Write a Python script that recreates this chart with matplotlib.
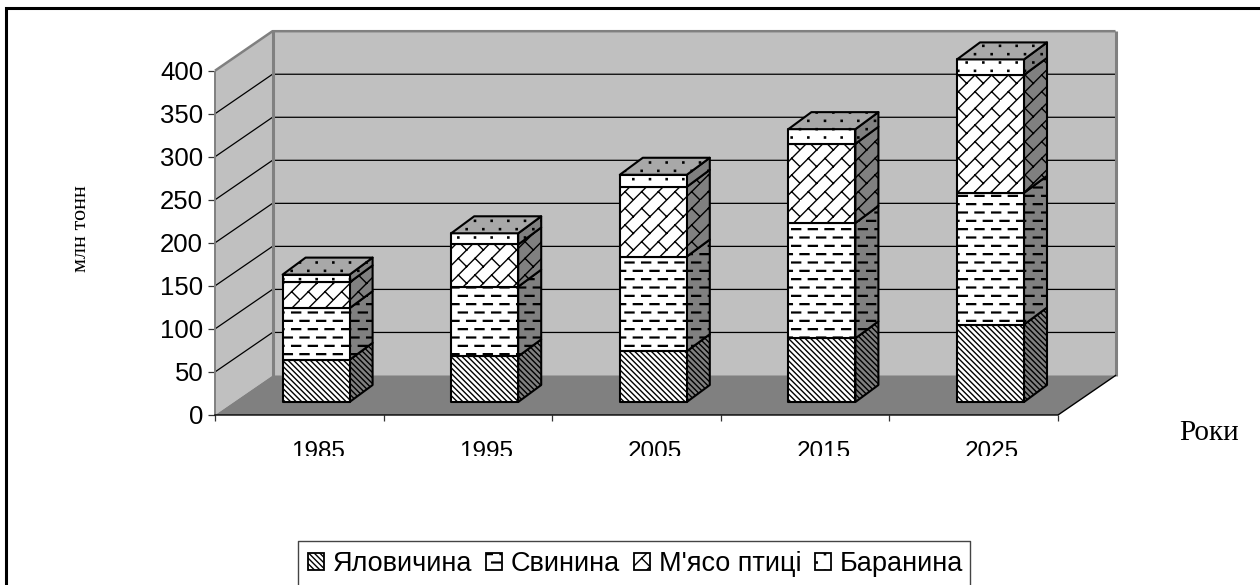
import matplotlib
matplotlib.use("Agg")
import matplotlib.pyplot as plt
import matplotlib.hatch as mh
from matplotlib.path import Path
from matplotlib.patches import Polygon, Patch
from matplotlib.lines import Line2D
from matplotlib.transforms import Bbox
import numpy as np

years = ["1985", "1995", "2005", "2015", "2025"]
series_names = ["Яловичина", "Свинина", "М'ясо птиці", "Баранина"]
beef = [49, 53, 59, 74, 90]
pork = [60, 81, 110, 134, 153]
poultry = [30, 49, 81, 92, 137]
mutton = [9, 13, 14, 17, 18]
y_ticks = [0, 50, 100, 150, 200, 250, 300, 350, 400]
y_label = "млн тонн"
x_label = "Роки"

W, H = 1260, 585


def add_rect(vertices, codes, k, x0, y0, x1, y1):
    vertices[k:k + 5] = [(x0, y0), (x1, y0), (x1, y1), (x0, y1), (x0, y0)]
    codes[k:k + 5] = [Path.MOVETO, Path.LINETO, Path.LINETO, Path.LINETO, Path.CLOSEPOLY]
    return k + 5


class DashHatch(mh.HatchPatternBase):
    def __init__(self, hatch, density):
        self.rows = 12 if "-" in hatch else 0
        self.cols = 6
        self.num_vertices = 5 * self.rows * (self.cols + 1)

    def set_vertices_and_codes(self, vertices, codes):
        k = 0
        T = 1 / self.cols
        for r in range(self.rows):
            off = (r % 2) * T / 2 - T / 2
            y = (r + 0.5) / self.rows
            for c in range(self.cols + 1):
                x = off + c * T
                k = add_rect(vertices, codes, k, x, y - 0.004, x + 0.09, y + 0.004)


class BrickHatch(mh.HatchPatternBase):
    def __init__(self, hatch, density):
        self.segs = []
        if "|" in hatch:
            N = 6
            T = 1 / N
            for i in range(N):
                for j in range(N):
                    x, y = i / N, j / N
                    self.segs.append(((x, y), (x + T, y + T)))
                    self.segs.append(((x + T, y), (x + T / 2, y + T / 2)))
        self.num_vertices = 2 * len(self.segs)

    def set_vertices_and_codes(self, vertices, codes):
        for k, (p, q) in enumerate(self.segs):
            vertices[2 * k] = p
            vertices[2 * k + 1] = q
            codes[2 * k] = Path.MOVETO
            codes[2 * k + 1] = Path.LINETO


class DotHatch(mh.HatchPatternBase):
    def __init__(self, hatch, density):
        self.rows = 12 if "." in hatch else 0
        self.cols = 6
        self.num_vertices = 5 * self.rows * (self.cols + 1)

    def set_vertices_and_codes(self, vertices, codes):
        k = 0
        T = 1 / self.cols
        h = 0.006
        for r in range(self.rows):
            off = (r % 2) * T / 2
            y = (r + 0.5) / self.rows
            for c in range(self.cols + 1):
                x = off + c * T
                k = add_rect(vertices, codes, k, x - h, y - h, x + h, y + h)


mh._hatch_types = [mh.SouthEastHatch, DashHatch, BrickHatch, DotHatch]
plt.rcParams["hatch.linewidth"] = 1.0
plt.rcParams["font.family"] = ["Liberation Sans", "DejaVu Sans"]

hatches = ["\\" * 6, "-", "|", "."]

fig = plt.figure(figsize=(W / 100, H / 100), dpi=100, facecolor="white")
# front plane of the pseudo-3D box
LEFT, RIGHT, TOP, BOTTOM = 215, 1058, 70.7, 415
ax = fig.add_axes([LEFT / W, 1 - BOTTOM / H, (RIGHT - LEFT) / W, (BOTTOM - TOP) / H])
ax.set_xlim(0, 5)
ax.set_ylim(0, 400)
ax.patch.set_visible(False)
for sp in ax.spines.values():
    sp.set_visible(False)

px_x = 5 / (RIGHT - LEFT)
px_y = 400 / (BOTTOM - TOP)
DX, DY = 57.5 * px_x, 39.5 * px_y          # depth of the box
BDX, BDY = 23 * px_x, 17 * px_y            # depth of one bar
BW = 67 * px_x
BAR_DX, BAR_LIFT = 16.8 * px_x, 13 * px_y  # where bars stand on the floor


def poly(pts, **kw):
    kw.setdefault("clip_on", False)
    ax.add_patch(Polygon(pts, closed=True, **kw))


WALL, FLOOR, SIDE, CAP = "#c0c0c0", "#808080", "#808080", "#a8a8a8"
poly([(0, 0), (DX, DY), (DX, 400 + DY), (0, 400)], facecolor=WALL, edgecolor="none", zorder=1)
poly([(DX, DY), (5 + DX, DY), (5 + DX, 400 + DY), (DX, 400 + DY)], facecolor=WALL, edgecolor="none", zorder=1)
poly([(0, 0), (5, 0), (5 + DX, DY), (DX, DY)], facecolor=FLOOR, edgecolor="none", zorder=2)

for t in y_ticks[1:-1]:
    ax.plot([0, DX, 5 + DX], [t, t + DY, t + DY], color="black", lw=0.9, clip_on=False, zorder=1.5)

gray_edge = dict(color="#808080", clip_on=False, zorder=1.6, solid_capstyle="butt")
ax.plot([0, 0], [0, 400], lw=1.4, **gray_edge)
ax.plot([0, DX, 5 + DX], [400, 400 + DY, 400 + DY], lw=1.8, **gray_edge)
ax.plot([DX, DX], [DY, 400 + DY], lw=2.2, **gray_edge)
ax.plot([5 + DX, 5 + DX], [DY, 400 + DY], lw=2.2, **gray_edge)
ax.plot([0, 5, 5 + DX], [0, 0, DY], color="black", lw=1.0, clip_on=False, zorder=2.5)

series = [beef, pork, poultry, mutton]
for i in range(len(years)):
    x0 = i + 0.5 + BAR_DX - BW / 2
    x1 = x0 + BW
    bottom = BAR_LIFT
    style = dict(edgecolor="black", linewidth=1.5, joinstyle="round", zorder=3 + i)
    for vals, h in zip(series, hatches):
        top = bottom + vals[i]
        poly([(x1, bottom), (x1 + BDX, bottom + BDY), (x1 + BDX, top + BDY), (x1, top)], facecolor=SIDE, hatch=h, **style)
        poly([(x0, bottom), (x1, bottom), (x1, top), (x0, top)], facecolor="white", hatch=h, **style)
        bottom = top
    poly([(x0, bottom), (x1, bottom), (x1 + BDX, bottom + BDY), (x0 + BDX, bottom + BDY)], facecolor=CAP, hatch=hatches[-1], **style)

ax.set_yticks(y_ticks)
ax.tick_params(axis="y", length=5, width=0.9, color="#333333", pad=3.5, labelsize=18.5, labelcolor="black")
ax.set_xticks(range(len(years) + 1))
ax.set_xticklabels([])
ax.tick_params(axis="x", which="major", length=4.5, width=0.9, color="#333333")
ax.set_xticks(np.arange(len(years)) + 0.5 + BAR_DX * 1.1, minor=True)
ax.set_xticklabels(years, minor=True, fontsize=17.5)
ax.tick_params(axis="x", which="minor", length=0, pad=19)
clip = Bbox.from_extents(0, H - 455.5, W, H - 430)
for lab in ax.get_xticklabels(minor=True):
    lab.set_clip_on(True)
    lab.set_clip_box(clip)

fig.text(81.5 / W, 1 - 229 / H, y_label, rotation=90, ha="center", va="center", family="Liberation Serif", fontsize=16)
fig.text(1208.5 / W, 1 - 433 / H, x_label, ha="center", va="center", family="Liberation Serif", fontsize=21)

# outer frame and legend box (both run off the picture edge)
fig.add_artist(Line2D([6 / W, 6 / W, 1], [0, 1 - 8 / H, 1 - 8 / H], color="black", lw=2.2, solid_joinstyle="miter"))
fig.add_artist(Line2D([298 / W, 298 / W, 970 / W, 970 / W], [0, 1 - 540.5 / H, 1 - 540.5 / H, 0], color="#444444", lw=1.0))

handles = [Patch(facecolor="white", edgecolor="black", hatch=h, linewidth=1.3) for h in hatches]
fig.legend(handles, series_names, loc="upper left", bbox_to_anchor=(308 / W, 1 - 551 / H), ncol=4, frameon=False,
           borderpad=0, borderaxespad=0, handlelength=0.59, handleheight=0.55, handletextpad=0.33,
           columnspacing=0.5, fontsize=19.5)

fig.savefig("out.png", dpi=100, facecolor="white")
